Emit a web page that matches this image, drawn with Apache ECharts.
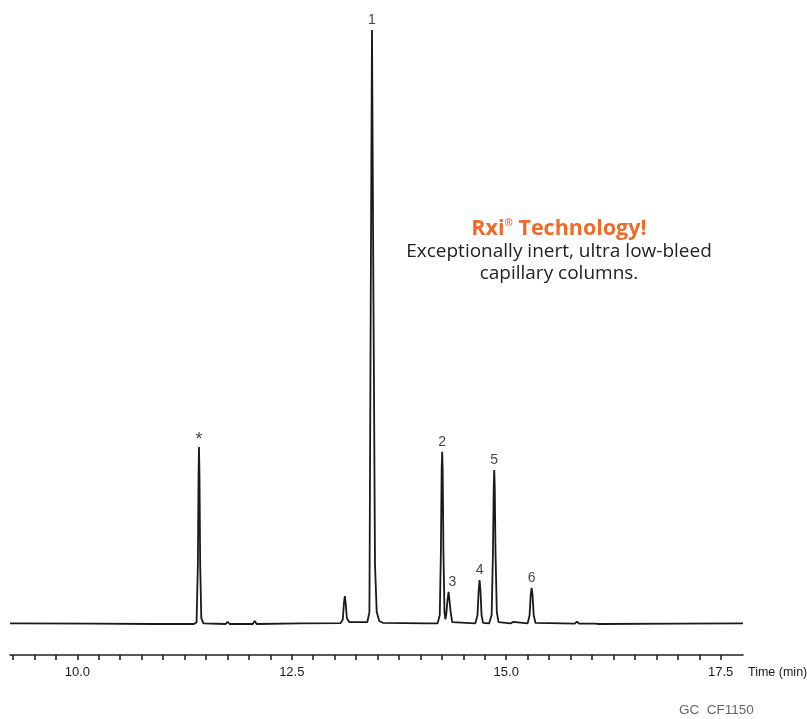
<!DOCTYPE html>
<html>
<head>
<meta charset="utf-8">
<script src="https://cdn.jsdelivr.net/npm/echarts@6/dist/echarts.min.js"></script>
<style>
  html, body { margin: 0; padding: 0; background: #fff; }
  #chart { width: 807px; height: 719px; }
</style>
</head>
<body>
<div id="chart"></div>
<script>
// Trace points: [time (min), relative response]
const trace = [
  [9.215, 0.1], [10.20, 0.05], [10.90, 0.0], [11.36, 0.0],
  [11.39, 0.3], [11.405, 10], [11.413, 25], [11.418, 29.8], [11.424, 25], [11.432, 10], [11.445, 1.0], [11.47, 0.1],
  [11.73, 0.0], [11.753, 0.35], [11.775, 0.0],
  [12.045, 0.0], [12.068, 0.5], [12.09, 0.0],
  [12.60, 0.1], [13.07, 0.15],
  [13.095, 0.8], [13.108, 3.5], [13.118, 4.7], [13.128, 3.5], [13.142, 1.0], [13.17, 0.3],
  [13.38, 0.3], [13.405, 2], [13.422, 60], [13.435, 100], [13.450, 60], [13.47, 10], [13.49, 2], [13.52, 0.5], [13.56, 0.2],
  [14.07, 0.1], [14.09, 0.35], [14.11, 0.1],
  [14.20, 0.1], [14.225, 1.5], [14.238, 12], [14.247, 26], [14.253, 29], [14.259, 26], [14.268, 12], [14.28, 2], [14.29, 0.8],
  [14.30, 1.5], [14.315, 4], [14.328, 5.4], [14.338, 5.3], [14.352, 2], [14.37, 0.3],
  [14.64, 0.1], [14.665, 1.5], [14.678, 5.5], [14.689, 7.4], [14.70, 5.5], [14.712, 1.5], [14.73, 0.2],
  [14.80, 0.1], [14.83, 1.5], [14.845, 12], [14.854, 23], [14.86, 25.9], [14.866, 23], [14.875, 12], [14.89, 2], [14.91, 0.3],
  [15.05, 0.1], [15.078, 0.35], [15.10, 0.05],
  [15.25, 0.1], [15.272, 1.5], [15.285, 4.8], [15.296, 6.1], [15.307, 4.8], [15.32, 1.5], [15.34, 0.2],
  [15.80, 0.05], [15.824, 0.4], [15.85, 0.05],
  [16.035, 0.05], [16.058, 0.35], [16.08, 0.0],
  [17.00, 0.05], [17.76, 0.1]
];

// Peak labels
const peakTimes   = [11.418, 13.435, 14.253, 14.338, 14.689, 14.86, 15.296];
const peakHeights = [29.8, 100, 29, 5.4, 7.4, 25.9, 6.1];
const peakLabels  = ['*', '1', '2', '3', '4', '5', '6'];

// Axis ticks
const tickValues  = [];
for (let v = 9.25; v <= 17.5 + 1e-9; v += 0.25) tickValues.push(+v.toFixed(2));
const labelValues = [10.0, 12.5, 15.0, 17.5];

const narrow = "'Liberation Sans Narrow', 'Liberation Sans', sans-serif";
const body = "'Open Sans', 'Noto Sans', sans-serif";

const chart = echarts.init(document.getElementById('chart'), null, { renderer: 'canvas' });
chart.setOption({
  animation: false,
  backgroundColor: '#ffffff',
  grid: { left: 10, right: 64, top: 20, bottom: 64 },
  xAxis: {
    type: 'value',
    min: 9.215,
    max: 17.76,
    axisLine: { show: true, onZero: false, lineStyle: { color: '#222', width: 1.6 } },
    axisTick: { show: true, customValues: tickValues, length: 5, lineStyle: { color: '#222', width: 1.6 } },
    axisLabel: {
      show: true, customValues: labelValues, margin: 11,
      formatter: v => Number(v).toFixed(1),
      fontFamily: narrow, fontSize: 13, color: '#1a1a1a'
    },
    splitLine: { show: false }
  },
  yAxis: {
    type: 'value', min: -5.22, max: 101.68, show: false, splitLine: { show: false }
  },
  series: [
    {
      type: 'line',
      data: trace,
      showSymbol: false,
      symbol: 'none',
      lineStyle: { color: '#1a1a1a', width: 1.8 },
      silent: true
    },
    {
      type: 'scatter',
      data: peakTimes.map((t, i) => ({
        value: [t, peakHeights[i]], name: peakLabels[i],
        label: peakLabels[i] === '*' ? { fontSize: 18, distance: -2 } : (peakLabels[i] === '3' ? { offset: [3, 0] } : {})
      })),
      symbolSize: 0,
      label: {
        show: true,
        position: 'top',
        distance: 3,
        formatter: p => p.name,
        fontFamily: narrow,
        fontSize: 14,
        color: '#111'
      },
      silent: true
    }
  ],
  graphic: [
    {
      type: 'text',
      style: {
        x: 559, y: 229, text: '{a|Rxi}{r|®}{a| Technology!}', align: 'center', verticalAlign: 'middle',
        rich: {
          a: { fontFamily: body, fontWeight: 'bold', fontSize: 21.5, fill: '#f26a2a', color: '#f26a2a' },
          r: { fontFamily: body, fontWeight: 'bold', fontSize: 10, fill: '#f26a2a', color: '#f26a2a', verticalAlign: 'top', padding: [0, 0, 9, 0] }
        }
      }
    },
    {
      type: 'text',
      style: {
        x: 559, y: 252, text: 'Exceptionally inert, ultra low-bleed', align: 'center', verticalAlign: 'middle',
        fontFamily: body, fontSize: 19, fill: '#222'
      }
    },
    {
      type: 'text',
      style: {
        x: 559, y: 274, text: 'capillary columns.', align: 'center', verticalAlign: 'middle',
        fontFamily: body, fontSize: 19, fill: '#222'
      }
    },
    {
      type: 'text',
      style: {
        x: 748, y: 673, text: 'Time (min)', align: 'left', verticalAlign: 'middle',
        fontFamily: narrow, fontSize: 12.5, fill: '#1a1a1a'
      }
    },
    {
      type: 'text',
      style: {
        x: 679, y: 710, text: 'GC  CF1150', align: 'left', verticalAlign: 'middle',
        fontFamily: narrow, fontSize: 13.5, fill: '#666'
      }
    }
  ]
});
</script>
</body>
</html>
